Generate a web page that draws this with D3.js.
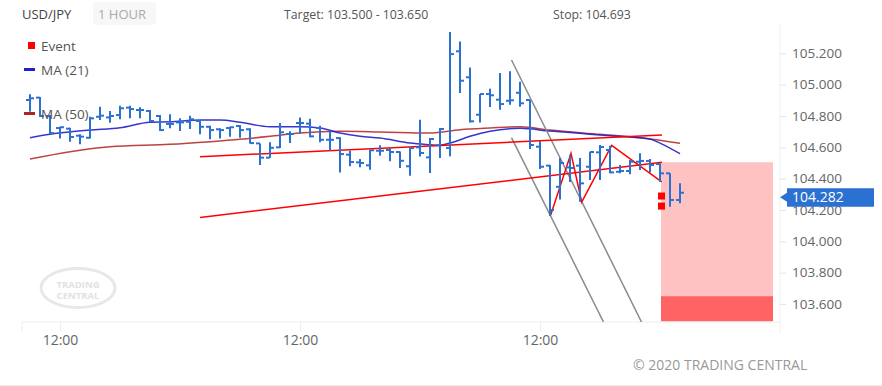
<!DOCTYPE html>
<html>
<head>
<meta charset="utf-8">
<script src="https://cdn.jsdelivr.net/npm/d3@7"></script>
<style>
    body { margin: 0; background: #fff; }
    svg text { font-family: "Open Sans", sans-serif; }
</style>
</head>
<body>
<svg id="chart" width="882" height="386"></svg>
<script>
// hourly bars
var opens  = [104.902,104.917,104.800,104.723,104.719,104.674,104.661,104.795,104.791,104.806,104.853,104.838,104.832,104.800,104.749,104.759,104.763,104.768,104.731,104.715,104.723,104.736,104.715,104.625,104.534,104.600,104.685,104.755,104.751,104.723,104.648,104.659,104.553,104.504,104.485,104.578,104.583,104.570,104.479,104.600,104.536,104.613,104.596,105.213,105.047,104.808,104.940,104.904,104.897,104.948,104.902,104.604,104.483,104.348,104.472,104.483,104.476,104.568,104.583,104.444,104.449,104.508,104.513,104.493,104.434,104.264];
var highs  = [104.938,104.921,104.806,104.731,104.725,104.683,104.795,104.859,104.832,104.865,104.865,104.855,104.838,104.806,104.811,104.785,104.802,104.774,104.738,104.721,104.731,104.742,104.721,104.625,104.632,104.755,104.702,104.791,104.782,104.738,104.706,104.664,104.578,104.525,104.585,104.613,104.595,104.574,104.600,104.776,104.659,104.723,105.336,105.276,105.110,104.940,104.974,105.074,105.085,105.019,104.902,104.640,104.487,104.532,104.551,104.532,104.572,104.615,104.610,104.487,104.519,104.562,104.525,104.498,104.434,104.370];
var lows   = [104.827,104.793,104.685,104.657,104.636,104.619,104.657,104.774,104.757,104.779,104.785,104.785,104.761,104.704,104.721,104.704,104.717,104.683,104.651,104.657,104.668,104.661,104.625,104.487,104.534,104.595,104.627,104.685,104.664,104.632,104.578,104.440,104.479,104.472,104.457,104.546,104.511,104.468,104.419,104.542,104.436,104.532,104.543,104.946,104.759,104.759,104.857,104.840,104.872,104.859,104.589,104.461,104.161,104.267,104.378,104.253,104.391,104.391,104.434,104.434,104.428,104.455,104.440,104.380,104.221,104.243];
var closes = [104.913,104.800,104.691,104.728,104.666,104.668,104.785,104.802,104.800,104.849,104.844,104.838,104.768,104.710,104.749,104.759,104.779,104.731,104.710,104.710,104.728,104.710,104.627,104.534,104.597,104.696,104.685,104.755,104.670,104.648,104.648,104.557,104.506,104.500,104.581,104.578,104.570,104.514,104.595,104.564,104.653,104.717,105.195,105.025,104.766,104.940,104.932,104.876,104.900,104.881,104.615,104.476,104.200,104.500,104.468,104.370,104.570,104.602,104.440,104.449,104.508,104.513,104.487,104.434,104.264,104.310];

// moving averages as [bar, price]
var ma21 = [[0,104.661],[2,104.683],[6,104.710],[9,104.725],[12,104.760],[14,104.763],[17,104.774],[19,104.774],[21,104.760],[24,104.731],[27,104.731],[29,104.723],[31,104.691],[33,104.670],[35,104.659],[38,104.627],[40,104.617],[41,104.613],[42,104.627],[44,104.670],[46,104.702],[49,104.721],[52,104.704],[55,104.689],[58,104.674],[61,104.661],[62,104.653],[63,104.627],[65,104.559]];
var ma50 = [[0,104.525],[4,104.572],[8,104.604],[14,104.619],[18,104.636],[21,104.651],[24,104.670],[27,104.691],[31,104.702],[35,104.698],[40,104.691],[43,104.712],[46,104.723],[49,104.731],[52,104.710],[57,104.683],[61,104.661],[65,104.626]];

// drawn objects, [bar, price]
var trendUpper = [[17,104.540],[63.2,104.678]];
var trendLower = [[17,104.152],[63.2,104.504]];
var zigzag = [[52.07,104.168],[54.1,104.562],[55.17,104.251],[58.17,104.613],[63.17,104.379]];
var channelA = [[48.15,105.157],[61.15,103.485]];
var channelB = [[48.15,104.662],[57.35,103.485]];
var events = [[63.15,104.289],[63.15,104.225]];

var zoneBars = [63.1, 74.3];
var zonePrices = [104.505, 103.65];
var targetPrices = [103.65, 103.49];
var lastPrice = 104.282;

var xTickBars = [3, 27, 51];
var xTickLabels = ['12:00', '12:00', '12:00'];
var yTicks = [103.6, 103.8, 104.0, 104.2, 104.4, 104.6, 104.8, 105.0, 105.2];

var svg = d3.select('#chart');
var plotLeft = 22, plotRight = 780, plotTop = 25, plotBottom = 322;

var x = d3.scaleLinear().domain([0, 65]).range([30, 680]);
var y = d3.scaleLinear().domain([103.6, 105.2]).range([304, 53.3]);

svg.append('defs').append('clipPath').attr('id', 'plot')
    .append('rect').attr('x', plotLeft).attr('y', plotTop)
    .attr('width', plotRight - plotLeft).attr('height', plotBottom - plotTop);

// header
svg.append('text').attr('x', 22).attr('y', 19).attr('font-size', 13).attr('fill', '#444').text('USD/JPY');
svg.append('rect').attr('x', 93).attr('y', 2).attr('width', 63).attr('height', 23).attr('rx', 4).attr('fill', '#f7f7f7');
svg.append('text').attr('x', 98).attr('y', 19).attr('font-size', 13).attr('fill', '#aaa').text('1 HOUR');
svg.append('text').attr('x', 284).attr('y', 19).attr('font-size', 12.3).attr('fill', '#555').text('Target: 103.500 - 103.650');
svg.append('text').attr('x', 553).attr('y', 19).attr('font-size', 12.3).attr('fill', '#555').text('Stop: 104.693');

// logo
var logo = svg.append('g').attr('fill', 'none');
logo.append('ellipse').attr('cx', 78).attr('cy', 288).attr('rx', 37).attr('ry', 19.5)
    .attr('stroke', '#e8e8e8').attr('stroke-width', 3);
logo.append('text').attr('x', 78).attr('y', 288).attr('text-anchor', 'middle').attr('font-size', 9.5)
    .attr('font-weight', 'bold').attr('fill', '#e2e2e2').text('TRADING');
logo.append('text').attr('x', 78).attr('y', 298.5).attr('text-anchor', 'middle').attr('font-size', 9.5)
    .attr('font-weight', 'bold').attr('fill', '#e2e2e2').text('CENTRAL');

// axes
svg.append('line').attr('x1', plotLeft).attr('x2', plotRight + 1).attr('y1', plotBottom).attr('y2', plotBottom).attr('stroke', '#eee');
svg.append('line').attr('x1', plotRight).attr('x2', plotRight).attr('y1', plotTop).attr('y2', 334).attr('stroke', '#f0f0f0');
svg.append('line').attr('x1', plotLeft).attr('x2', plotLeft).attr('y1', plotBottom).attr('y2', 332).attr('stroke', '#eee');

var xAxis = svg.append('g').attr('transform', 'translate(0,' + plotBottom + ')')
    .call(d3.axisBottom(x).tickValues(xTickBars).tickFormat(function (d, i) { return xTickLabels[i]; })
        .tickSize(10).tickPadding(3));
xAxis.select('.domain').remove();
xAxis.selectAll('line').attr('stroke', '#eee');
xAxis.selectAll('text').attr('fill', '#666').attr('font-size', 14);

var yAxis = svg.append('g').attr('transform', 'translate(' + plotRight + ',0)')
    .call(d3.axisRight(y).tickValues(yTicks).tickFormat(d3.format('.3f')).tickSize(6).tickPadding(6));
yAxis.select('.domain').remove();
yAxis.selectAll('line').attr('stroke', '#e4e4e4');
yAxis.selectAll('text').attr('fill', '#666').attr('font-size', 13.5);

// plot content
var plot = svg.append('g').attr('clip-path', 'url(#plot)');

plot.append('rect').attr('x', x(zoneBars[0])).attr('width', x(zoneBars[1]) - x(zoneBars[0]))
    .attr('y', y(zonePrices[0])).attr('height', y(zonePrices[1]) - y(zonePrices[0])).attr('fill', '#ffc2c2');
plot.append('rect').attr('x', x(zoneBars[0])).attr('width', x(zoneBars[1]) - x(zoneBars[0]))
    .attr('y', y(targetPrices[0])).attr('height', y(targetPrices[1]) - y(targetPrices[0])).attr('fill', '#ff6363');

var line = d3.line().x(function (d) { return x(d[0]); }).y(function (d) { return y(d[1]); });
var smooth = d3.line().curve(d3.curveMonotoneX).x(function (d) { return x(d[0]); }).y(function (d) { return y(d[1]); });

plot.append('path').datum(ma50).attr('d', smooth).attr('fill', 'none').attr('stroke', '#b22222').attr('stroke-opacity', 0.85).attr('stroke-width', 1.5);
plot.append('path').datum(ma21).attr('d', smooth).attr('fill', 'none').attr('stroke', '#2020c8').attr('stroke-opacity', 0.9).attr('stroke-width', 1.5);

[channelA, channelB].forEach(function (c) {
    plot.append('path').datum(c).attr('d', line).attr('fill', 'none').attr('stroke', '#8a8a8a').attr('stroke-width', 1.5);
});
[trendUpper, trendLower, zigzag].forEach(function (c) {
    plot.append('path').datum(c).attr('d', line).attr('fill', 'none').attr('stroke', '#ff0000').attr('stroke-width', 1.5);
});

// ohlc bars
var barColor = '#2b71d1';
var bars = plot.selectAll('g.bar').data(opens).enter().append('g').attr('class', 'bar')
    .attr('stroke', barColor).attr('stroke-width', 2);
bars.append('line')
    .attr('x1', function (d, i) { return x(i); }).attr('x2', function (d, i) { return x(i); })
    .attr('y1', function (d, i) { return y(highs[i]); }).attr('y2', function (d, i) { return y(lows[i]); });
bars.append('line')
    .attr('x1', function (d, i) { return x(i) - 4; }).attr('x2', function (d, i) { return x(i); })
    .attr('y1', function (d) { return y(d); }).attr('y2', function (d) { return y(d); });
bars.append('line')
    .attr('x1', function (d, i) { return x(i); }).attr('x2', function (d, i) { return x(i) + 4; })
    .attr('y1', function (d, i) { return y(closes[i]); }).attr('y2', function (d, i) { return y(closes[i]); });

plot.selectAll('rect.event').data(events).enter().append('rect').attr('class', 'event')
    .attr('x', function (d) { return x(d[0]) - 3.5; }).attr('y', function (d) { return y(d[1]) - 3.5; })
    .attr('width', 7).attr('height', 7).attr('fill', '#ff0000');

// last price tag
var ly = y(lastPrice);
svg.append('path').attr('d', 'M' + plotRight + ' ' + ly + 'L787 ' + (ly - 4.5) + 'L787 ' + (ly - 9) + 'L874 ' + (ly - 9)
    + 'L874 ' + (ly + 9.5) + 'L787 ' + (ly + 9.5) + 'L787 ' + (ly + 4.5) + 'Z').attr('fill', barColor);
svg.append('text').attr('x', 792).attr('y', ly + 5).attr('font-size', 14).attr('fill', '#fff').text(d3.format('.3f')(lastPrice));

// legend
svg.append('rect').attr('x', 28).attr('y', 42).attr('width', 7).attr('height', 7).attr('fill', '#ff0000');
svg.append('text').attr('x', 41).attr('y', 50.5).attr('font-size', 13.5).attr('fill', '#555').text('Event');
svg.append('line').attr('x1', 24).attr('x2', 35).attr('y1', 69.5).attr('y2', 69.5).attr('stroke', '#2020c8').attr('stroke-width', 3);
svg.append('text').attr('x', 41).attr('y', 75).attr('font-size', 13.5).attr('fill', '#555').text('MA (21)');
svg.append('line').attr('x1', 24).attr('x2', 35).attr('y1', 113.5).attr('y2', 113.5).attr('stroke', '#b22222').attr('stroke-width', 3);
svg.append('text').attr('x', 41).attr('y', 119).attr('font-size', 13.5).attr('fill', '#555').text('MA (50)');

// footer
svg.append('text').attr('x', 633).attr('y', 370).attr('font-size', 14).attr('fill', '#999').text('\u00a9 2020 TRADING CENTRAL');
svg.append('line').attr('x1', 0).attr('x2', 882).attr('y1', 385.5).attr('y2', 385.5).attr('stroke', '#eee');
</script>
</body>
</html>
